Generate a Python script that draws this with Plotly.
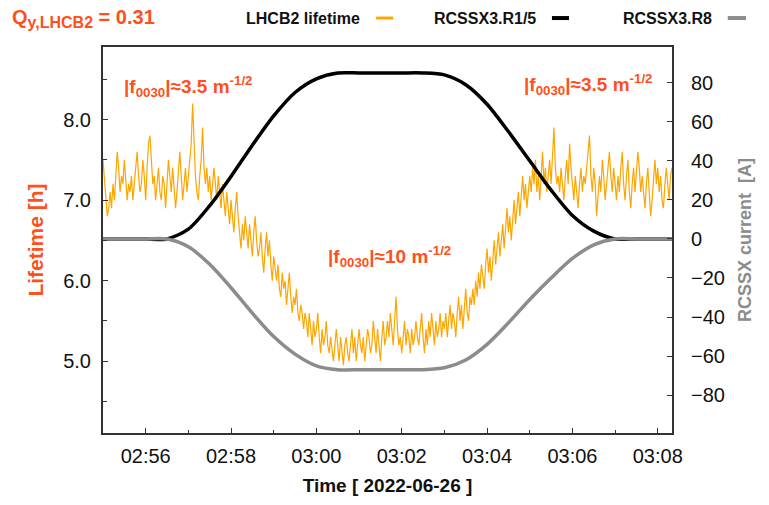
import pandas as pd
import plotly.graph_objects as go

# ---------------- data ----------------
lifetime_start = "2022-06-26 02:55:00"
lifetime_step_s = 2
lifetime_h = [
    7.5, 7.3, 7.0, 6.8, 6.9, 7.1, 6.9, 7.2, 7.0, 7.3, 7.6, 7.4, 7.1, 7.3, 7.2, 7.5, 7.3, 7.0, 7.2, 7.1,
    7.3, 7.0, 7.2, 7.4, 7.6, 7.3, 7.1, 7.2, 7.5, 7.3, 7.0, 7.4, 7.7, 7.8, 7.4, 7.2, 7.3, 7.0, 7.2, 7.4,
    7.1, 7.0, 7.3, 7.2, 6.9, 7.2, 7.5, 7.3, 7.1, 7.4, 7.2, 6.9, 7.1, 7.4, 7.6, 7.3, 7.0, 7.2, 7.4, 7.1,
    7.3, 7.5, 7.7, 8.2, 7.6, 7.3, 7.1, 7.0, 7.3, 7.5, 7.9, 7.4, 7.2, 7.4, 7.1, 7.3, 7.0, 7.2, 7.4, 7.2,
    7.0, 7.3, 7.1, 6.9, 7.2, 7.0, 6.8, 7.1, 6.9, 6.7, 7.0, 6.8, 6.6, 6.9, 7.1, 6.8, 6.6, 6.4, 6.7, 6.5,
    6.8, 6.6, 6.4, 6.7, 6.5, 6.3, 6.6, 6.8, 6.5, 6.3, 6.4, 6.6, 6.3, 6.1, 6.4, 6.6, 6.3, 6.5, 6.2, 6.0,
    6.3, 6.1, 6.0, 6.2, 5.9, 5.8, 6.1, 5.9, 6.0, 5.7, 5.9, 6.1, 5.8, 5.6, 5.8, 5.7, 5.9, 5.6, 5.5, 5.7,
    5.6, 5.4, 5.6, 5.5, 5.3, 5.6, 5.4, 5.2, 5.5, 5.3, 5.4, 5.6, 5.3, 5.1, 5.4, 5.2, 5.3, 5.5, 5.2, 5.1,
    5.3, 5.1, 5.0, 5.2, 5.4, 5.2, 5.0, 5.3, 5.1, 4.95, 5.2, 5.3, 5.1, 5.0, 5.2, 5.4, 5.1, 5.3, 5.0, 5.2,
    5.4, 5.2, 5.1, 5.3, 5.0, 5.2, 5.4, 5.3, 5.1, 5.2, 5.5, 5.3, 5.1, 5.4, 5.2, 5.0, 5.3, 5.5, 5.2, 5.3,
    5.5, 5.3, 5.6, 5.4, 5.2, 5.5, 5.8, 5.4, 5.2, 5.3, 5.1, 5.3, 5.5, 5.2, 5.4, 5.3, 5.1, 5.4, 5.2, 5.3,
    5.5, 5.3, 5.2, 5.4, 5.6, 5.3, 5.1, 5.4, 5.2, 5.5, 5.3, 5.6, 5.4, 5.2, 5.5, 5.3, 5.4, 5.6, 5.3, 5.5,
    5.4, 5.6, 5.3, 5.5, 5.7, 5.4, 5.6, 5.5, 5.3, 5.6, 5.8, 5.5, 5.7, 5.4, 5.6, 5.9, 5.6, 5.5, 5.8, 5.7,
    5.9, 5.7, 6.0, 5.8, 6.1, 5.9, 6.2, 6.0, 5.9, 6.2, 6.4, 6.1, 6.3, 6.0, 6.3, 6.5, 6.2, 6.4, 6.6, 6.3,
    6.5, 6.7, 6.4, 6.6, 6.9, 6.6, 6.8, 6.5, 6.8, 7.0, 6.7, 6.9, 7.1, 6.8, 7.0, 7.3, 7.0, 7.2, 6.9, 7.1,
    7.3, 7.1, 7.4, 7.2, 7.5, 7.1, 7.3, 7.0, 7.4, 7.6, 7.2, 7.4, 7.1, 7.3, 7.5, 7.2, 7.6, 7.9, 7.4, 7.2,
    7.3, 7.1, 7.4, 7.2, 7.0, 7.3, 7.5, 7.2, 7.7, 7.4, 7.2, 7.0, 7.3, 7.1, 6.9, 7.2, 7.4, 7.1, 7.3, 7.2,
    7.4, 7.6, 7.8, 7.3, 7.1, 7.4, 7.2, 6.8, 7.0, 7.3, 7.1, 7.5, 7.3, 7.0, 7.2, 7.4, 7.6, 7.3, 7.1, 7.4,
    7.2, 7.0, 7.3, 7.1, 7.4, 7.6, 7.2, 7.0, 7.3, 7.5, 7.1, 6.9, 7.2, 7.4, 7.1, 7.3, 7.6, 7.4, 7.1, 7.3,
    7.1, 6.9, 7.2, 7.4, 7.1, 6.8, 7.0, 7.3, 7.5, 7.2, 7.4, 7.1, 7.3, 7.0, 6.9, 7.2, 7.4, 7.2, 7.0, 7.3,
    7.4,
]

current_times = [
    "02:55:00", "02:55:30", "02:56:00", "02:56:30", "02:57:00", "02:57:30",
    "02:58:00", "02:58:30", "02:59:00", "02:59:30", "03:00:00", "03:00:30",
    "03:01:00", "03:01:30", "03:02:00", "03:02:30", "03:03:00", "03:03:30",
    "03:04:00", "03:04:30", "03:05:00", "03:05:30", "03:06:00", "03:06:30",
    "03:07:00", "03:07:30", "03:08:00", "03:08:20",
]
r15_current = [
    0, 0, 0, 0, 5, 17,
    32, 48, 63, 75, 82, 85,
    85, 85, 85, 85, 84, 79,
    69, 55, 40, 25, 12, 4,
    0, 0, 0, 0,
]
r8_current = [
    0, 0, 0, 0, -4, -13,
    -25, -38, -50, -59, -65, -67,
    -67, -67, -67, -67, -66, -62,
    -54, -43, -31, -20, -10, -3,
    0, 0, 0, 0,
]

day = "2022-06-26"
x_range = [f"{day} 02:55:00", f"{day} 03:08:20"]

# ---------------- styling ----------------
FONT = "Liberation Sans, Arial, sans-serif"
RED = "#ff4f1a"
ORANGE = "#ffa500"
GREY = "#8c8c8c"
FRAME = "#333333"

lifetime_time = pd.date_range(lifetime_start, periods=len(lifetime_h),
                              freq=f"{lifetime_step_s}s")
cur_time = pd.to_datetime([f"{day} {t}" for t in current_times])

fig = go.Figure()
fig.add_trace(go.Scatter(
    x=lifetime_time, y=lifetime_h, mode="lines", name="LHCB2 lifetime",
    line=dict(color=ORANGE, width=1.2), yaxis="y",
))
fig.add_trace(go.Scatter(
    x=cur_time, y=r15_current, mode="lines", name="RCSSX3.R1/5",
    line=dict(color="black", width=3.5, shape="spline", smoothing=0.8),
    yaxis="y2",
))
fig.add_trace(go.Scatter(
    x=cur_time, y=r8_current, mode="lines", name="RCSSX3.R8",
    line=dict(color=GREY, width=3.5, shape="spline", smoothing=0.8),
    yaxis="y2",
))

axis_common = dict(
    showline=True, linecolor=FRAME, linewidth=2, ticks="inside",
    tickcolor=FRAME, ticklen=5, showgrid=False, zeroline=False,
    tickfont=dict(family=FONT, size=20, color="#111"),
)

fig.update_layout(
    width=769, height=505,
    margin=dict(l=103, r=97, t=47, b=70),
    paper_bgcolor="white", plot_bgcolor="white",
    showlegend=False,
    font=dict(family=FONT),
    xaxis=dict(
        **axis_common, mirror=True, type="date", range=x_range,
        tick0=f"{day} 02:56:00", dtick=120000, tickformat="%H:%M",
        minor=dict(dtick=60000, ticks="inside", ticklen=3, tickcolor=FRAME),
        ticklabelstandoff=4,
        title=dict(text="<b>Time [ 2022-06-26 ]</b>", standoff=13,
                   font=dict(family=FONT, size=19, color="#111")),
    ),
    yaxis=dict(
        **axis_common, range=[4.11, 8.9], tick0=0, dtick=1, tickformat=".1f",
        minor=dict(dtick=0.5, ticks="inside", ticklen=4, tickcolor=FRAME),
        ticklabelstandoff=6,
        title=dict(text="<b>Lifetime [h]</b>", standoff=14,
                   font=dict(family=FONT, size=21, color=RED)),
    ),
    yaxis2=dict(
        **axis_common, overlaying="y", side="right",
        range=[-99.4, 98.3], tick0=0, dtick=20,
        ticklabelstandoff=13,
        title=dict(text="<b>RCSSX current \u00a0[A]</b>", standoff=14,
                   font=dict(family=FONT, size=18, color=GREY)),
    ),
)

# header: tune label and series keys (text followed by a line sample)
fig.add_annotation(
    text=("<b>Q<sub><span style='font-size:16px'>y,LHCB2</span></sub>"
          " = 0.31</b>"),
    xref="paper", yref="paper",
    x=-0.163, y=1.075, xanchor="left", yanchor="middle", showarrow=False,
    font=dict(family=FONT, size=20, color=RED),
)

keys = [
    ("LHCB2 lifetime", ORANGE, 3, 0.455, 0.480, 0.510),
    ("RCSSX3.R1/5", "black", 4, 0.7645, 0.789, 0.819),
    ("RCSSX3.R8", GREY, 4, 1.0738, 1.098, 1.130),
]
for label, color, lw, x_text, x0, x1 in keys:
    fig.add_annotation(
        text=f"<b>{label}</b>", xref="paper", yref="paper",
        x=x_text, y=1.075, xanchor="right", yanchor="middle",
        showarrow=False, font=dict(family=FONT, size=16, color="#111"),
    )
    fig.add_shape(type="line", xref="paper", yref="paper",
                  x0=x0, x1=x1, y0=1.075, y1=1.075,
                  line=dict(color=color, width=lw))

# resonance driving term labels
f_labels = [
    ("<b>|f<sub>0030</sub>|≈3.5 m<sup>-1/2</sup></b>", 0.0334, 0.897),
    ("<b>|f<sub>0030</sub>|≈3.5 m<sup>-1/2</sup></b>", 0.736, 0.902),
    ("<b>|f<sub>0030</sub>|≈10 m<sup>-1/2</sup></b>", 0.392, 0.456),
]
for text, xp, yp in f_labels:
    fig.add_annotation(
        text=text, xref="paper", yref="paper", x=xp, y=yp,
        xanchor="left", yanchor="middle", showarrow=False,
        font=dict(family=FONT, size=19, color=RED),
    )

fig.write_html("out.html")
